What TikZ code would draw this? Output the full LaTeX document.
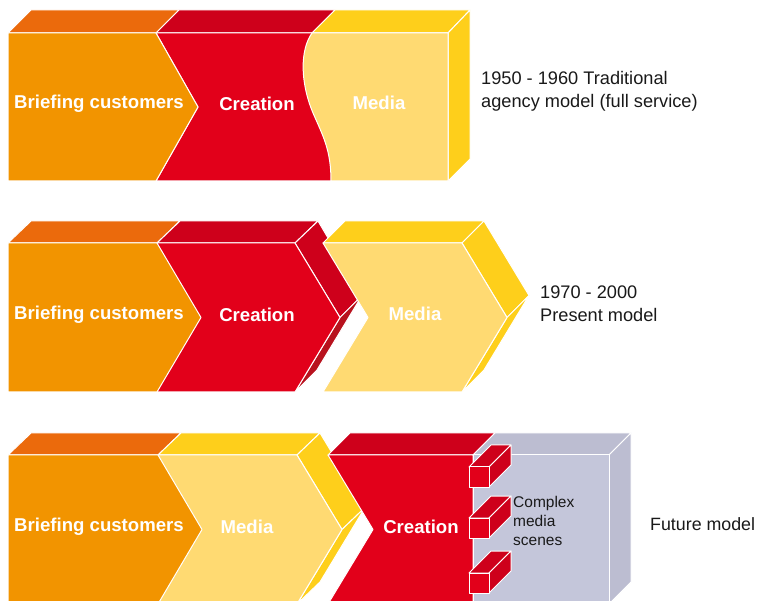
\documentclass[tikz,border=0pt]{standalone}
\usepackage{fontspec}
\setmainfont{Liberation Sans}
\definecolor{orfront}{HTML}{F29400}
\definecolor{ortop}{HTML}{EB6A0C}
\definecolor{redfront}{HTML}{E2001A}
\definecolor{redtop}{HTML}{CE001B}
\definecolor{redlow}{HTML}{B8121E}
\definecolor{yelfront}{HTML}{FFDA72}
\definecolor{yeltop}{HTML}{FECF1B}
\definecolor{greyfront}{HTML}{C4C6DA}
\definecolor{greytop}{HTML}{BCBDD1}
\tikzset{
  face/.style={draw=white,line width=1pt,line join=round},
  stage/.style={text=white,font=\fontsize{18.6}{20}\selectfont\bfseries},
  era/.style={anchor=west,align=left,inner sep=0pt,text=black!90,font=\fontsize{18.2}{23}\selectfont},
}
% small cuboid sitting on the creation block, #1 = top of its front face
\newcommand{\scenebox}[1]{
  \filldraw[face,fill=redtop] (469,#1) -- (491,#1-22) -- (511,#1-22) -- (489,#1) -- cycle;
  \filldraw[face,fill=redtop] (489,#1) -- (511,#1-22) -- (511,#1-2) -- (489,#1+20) -- cycle;
  \filldraw[face,fill=redfront] (469,#1) rectangle (489,#1+20);
}

\begin{document}
\begin{tikzpicture}[x=1pt,y=-1pt]
  \useasboundingbox (0,0) rectangle (758,601);

  % --- full service block
  \filldraw[face,fill=ortop] (8,33) -- (31,10) -- (179,10) -- (156,33) -- cycle;
  \filldraw[face,fill=redtop] (156,33) -- (179,10) -- (335,10) -- (312,33) -- cycle;
  \filldraw[face,fill=yeltop] (312,33) -- (335,10) -- (470,10) -- (448,33) -- cycle;
  \filldraw[face,fill=yeltop] (448,33) -- (470,10) -- (470,159) -- (448,181) -- cycle;
  \filldraw[face,fill=redfront] (156,33) -- (448,33) -- (448,181) -- (156,181) -- (198,107) -- cycle;
  \filldraw[face,fill=yelfront] (312,33) .. controls (300,50) and (300,82) .. (313,113)
        .. controls (323,136) and (331,150) .. (331,181) -- (448,181) -- (448,33) -- cycle;
  \filldraw[face,fill=orfront] (8,33) -- (156,33) -- (198,107) -- (156,181) -- (8,181) -- cycle;
  \node[stage] (brief1) at (99,104) {Briefing customers};
  \node[stage] (crea1) at (257,104) {Creation};
  \node[stage] (media1) at (379,103) {Media};
  \node[era] (era1) at (481,91) {1950 - 1960 Traditional\\agency model (full service)};

  % --- present block
  \filldraw[face,fill=ortop] (8,243) -- (31,221) -- (180,221) -- (157,243) -- cycle;
  \filldraw[face,fill=redtop] (157,243) -- (180,221) -- (318,221) -- (295,243) -- cycle;
  \filldraw[face,fill=redtop] (295,243) -- (318,221) -- (362,295.5) -- (340,317.5) -- cycle;
  \filldraw[face,fill=redlow] (340,317.5) -- (362,295.5) -- (317,370) -- (295,392) -- cycle;
  \filldraw[face,fill=redfront] (157,243) -- (295,243) -- (340,317.5) -- (295,392) -- (157,392) -- cycle;
  \filldraw[face,fill=orfront] (8,243) -- (157,243) -- (201,317.5) -- (157,392) -- (8,392) -- cycle;
  \filldraw[face,fill=yeltop] (323,243) -- (345,221) -- (484,221) -- (462,243) -- cycle;
  \filldraw[face,fill=yeltop] (462,243) -- (484,221) -- (529,295.5) -- (507,317.5) -- cycle;
  \filldraw[face,fill=yeltop] (507,317.5) -- (529,295.5) -- (484,370) -- (462,392) -- cycle;
  \filldraw[face,fill=yelfront] (323,243) -- (462,243) -- (507,317.5) -- (462,392) -- (323,392) -- (368,317.5) -- cycle;
  \node[stage] (brief2) at (99,315) {Briefing customers};
  \node[stage] (crea2) at (257,315) {Creation};
  \node[stage] (media2) at (415,314) {Media};
  \node[era] (era2) at (540,304) {1970 - 2000\\Present model};

  % --- future block
  \filldraw[face,fill=ortop] (8,455) -- (31,433) -- (181,433) -- (158,455) -- cycle;
  \filldraw[face,fill=yeltop] (158,455) -- (181,433) -- (320,433) -- (297,455) -- cycle;
  \filldraw[face,fill=yeltop] (297,455) -- (320,433) -- (365,507.5) -- (342,529.5) -- cycle;
  \filldraw[face,fill=yeltop] (342,529.5) -- (365,507.5) -- (320,582) -- (297,604) -- cycle;
  \filldraw[face,fill=yelfront] (158,455) -- (297,455) -- (342,529.5) -- (297,604) -- (158,604) -- cycle;
  \filldraw[face,fill=orfront] (8,455) -- (158,455) -- (202,529.5) -- (158,604) -- (8,604) -- cycle;
  \filldraw[face,fill=redtop] (328,455) -- (350,433) -- (495,433) -- (473,455) -- cycle;
  \filldraw[face,fill=redfront] (328,455) -- (473,455) -- (473,604) -- (328,604) -- (373,529.5) -- cycle;
  \filldraw[face,fill=greytop] (473,455) -- (495,433) -- (631,433) -- (609,455) -- cycle;
  \filldraw[face,fill=greytop] (609,455) -- (631,433) -- (631,582) -- (609,604) -- cycle;
  \filldraw[face,fill=greyfront] (473,455) rectangle (609,604);
  \scenebox{467}
  \scenebox{518}
  \scenebox{573}
  \node[stage] (brief3) at (99,527) {Briefing customers};
  \node[stage] (media3) at (247,527) {Media};
  \node[stage] (crea3) at (421,527) {Creation};
  \node[anchor=north west,align=left,inner sep=0pt,text=black!90,font=\fontsize{15.5}{19}\selectfont] (scenes) at (513,496) {Complex\\media\\scenes};
  \node[era,font=\fontsize{17.8}{20}\selectfont] (era3) at (650,524) {Future model};
\end{tikzpicture}
\end{document}
